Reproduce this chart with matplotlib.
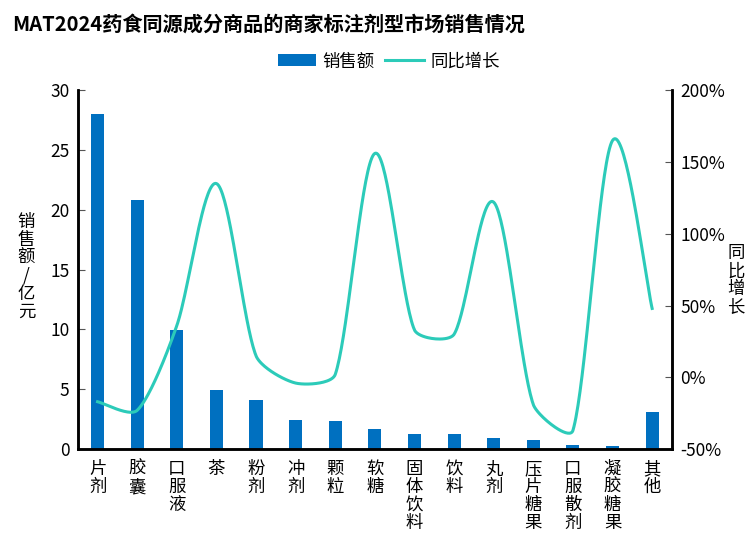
import matplotlib.pyplot as plt
import numpy as np

plt.rcParams['font.family'] = ['Noto Sans CJK SC', 'DejaVu Sans']

# Data
categories = ['片剂', '胶囊', '口服液', '茶', '粉剂', '冲剂', '颗粒', '软糖',
              '固体饮料', '饮料', '丸剂', '压片糖果', '口服散剂', '凝胶糖果', '其他']
sales = [28.0, 20.8, 9.95, 4.95, 4.1, 2.45, 2.35, 1.7,
         1.25, 1.25, 0.95, 0.75, 0.35, 0.3, 3.1]
growth = [-17, -23, 36, 135, 15, -4, 2, 156,
          33, 30, 122, -19, -37, 165, 48]

bar_color = '#0070C0'
line_color = '#2CCBB9'


def smooth(x, y, sx=39.6, sy=1.436, k=0.25, steps=40):
    """Smoothed line through the points (Catmull-Rom, control arms clamped
    to a share of each segment's length in pixel space, like Excel)."""
    p = np.column_stack([np.asarray(x, float) * sx, np.asarray(y, float) * sy])
    n = len(p)
    tan = np.zeros_like(p)
    for i in range(n):
        tan[i] = (p[min(i + 1, n - 1)] - p[max(i - 1, 0)]) / 6
    t = np.linspace(0, 1, steps)[:, None]
    out = []
    for i in range(n - 1):
        L = np.hypot(*(p[i + 1] - p[i]))
        a1, a2 = tan[i].copy(), tan[i + 1].copy()
        for a in (a1, a2):
            m = np.hypot(*a)
            if m > k * L:
                a *= k * L / m
        c1 = p[i] + a1
        c2 = p[i + 1] - a2
        seg = (1 - t) ** 3 * p[i] + 3 * (1 - t) ** 2 * t * c1 \
            + 3 * (1 - t) * t ** 2 * c2 + t ** 3 * p[i + 1]
        out.append(seg)
    out = np.vstack(out)
    return out[:, 0] / sx, out[:, 1] / sy


fig = plt.figure(figsize=(7.55, 5.34), dpi=100)
ax = fig.add_axes([0.103, 0.159, 0.787, 0.672])
ax2 = ax.twinx()

x = np.arange(len(categories))
bars = ax.bar(x, sales, width=0.33, color=bar_color, label='销售额', zorder=2)
lx, ly = smooth(x, growth)
line, = ax2.plot(lx, ly, color=line_color, lw=2.2, label='同比增长', zorder=3)

ax.set_xlim(-0.5, len(categories) - 0.5)
ax.set_ylim(0, 30)
ax.set_yticks(range(0, 31, 5))
ax2.set_ylim(-50, 200)
ax2.set_yticks(range(-50, 201, 50))
ax2.set_yticklabels([f'{v}%' for v in range(-50, 201, 50)])

ax.set_xticks(x)
ax.set_xticklabels(['\n'.join(c) for c in categories], fontsize=12.5,
                   linespacing=1.0, va='top')
ax.tick_params(axis='x', length=0, pad=8)
ax.tick_params(axis='y', direction='in', length=5, color='#555555',
               labelsize=12.5, pad=6)
ax2.tick_params(axis='y', direction='in', length=5, color='#555555',
                labelsize=12.5, pad=6)

for a in (ax, ax2):
    a.spines['top'].set_visible(False)
    for s in ('left', 'right', 'bottom'):
        a.spines[s].set_linewidth(1.8)
        a.spines[s].set_color('black')

fig.text(0.035, 0.50, '\n'.join('销售额/亿元'), fontsize=12.5, ha='center',
         va='center', linespacing=1.0)
fig.text(0.975, 0.475, '\n'.join('同比增长'), fontsize=12.5, ha='center',
         va='center', linespacing=1.0)

fig.text(0.016, 0.975, 'MAT2024药食同源成分商品的商家标注剂型市场销售情况',
         fontsize=14.5, fontweight='bold', ha='left', va='top')

fig.legend(handles=[bars, line], loc='center', bbox_to_anchor=(0.515, 0.885),
           ncol=2, frameon=False, fontsize=12.5, handlelength=2.2,
           handletextpad=0.4, columnspacing=0.6)

fig.savefig('out.png', dpi=100)
